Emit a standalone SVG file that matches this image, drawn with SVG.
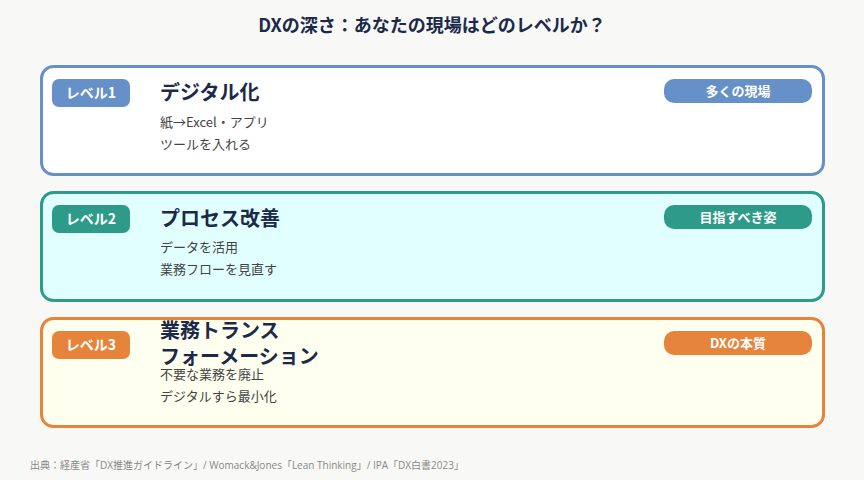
<svg xmlns="http://www.w3.org/2000/svg" width="864" height="480" viewBox="0 0 864 480">
<style>
text{font-family:"Noto Sans CJK JP","Noto Sans",sans-serif}
.ttl{font-size:18px;font-weight:bold;fill:#1c2a4a}
.card{stroke-width:3}
.lv{font-size:14px;font-weight:bold;fill:#fff}
.tag{font-size:13px;font-weight:bold;fill:#fff}
.h{font-size:20px;font-weight:bold;fill:#1c2a4a}
.s{font-size:13px;fill:#444}
.src{font-size:10px;fill:#888;font-family:"Open Sans","Noto Sans CJK JP",sans-serif}
</style>
<rect width="864" height="480" fill="#f8f8f6"/>
<text class="ttl" x="432" y="32" text-anchor="middle">DXの深さ：あなたの現場はどのレベルか？</text>
<g id="level1">
<rect class="card" x="41.5" y="66.5" width="782" height="108" rx="12" fill="#ffffff" stroke="#6690c8"/>
<rect x="52" y="79" width="78" height="28" rx="7" fill="#6690c8"/>
<text class="lv" x="91" y="98" text-anchor="middle">レベル1</text>
<text class="h" x="160" y="100">デジタル化</text>
<text class="s" x="160" y="127">紙→Excel・アプリ</text>
<text class="s" x="160" y="149">ツールを入れる</text>
<rect x="664" y="79" width="148" height="24" rx="10" fill="#6690c8"/>
<text class="tag" x="738" y="95.5" text-anchor="middle">多くの現場</text>
</g>
<g id="level2">
<rect class="card" x="41.5" y="192.5" width="782" height="108" rx="12" fill="#e0fffe" stroke="#2e9b8a"/>
<rect x="52" y="205" width="78" height="28" rx="7" fill="#2e9b8a"/>
<text class="lv" x="91" y="224" text-anchor="middle">レベル2</text>
<text class="h" x="160" y="226">プロセス改善</text>
<text class="s" x="160" y="252">データを活用</text>
<text class="s" x="160" y="274">業務フローを見直す</text>
<rect x="664" y="205" width="148" height="24" rx="10" fill="#2e9b8a"/>
<text class="tag" x="738" y="221.5" text-anchor="middle">目指すべき姿</text>
</g>
<g id="level3">
<rect class="card" x="41.5" y="318.5" width="782" height="108" rx="12" fill="#fffff0" stroke="#e5843a"/>
<rect x="52" y="331" width="78" height="28" rx="7" fill="#e5843a"/>
<text class="lv" x="91" y="350" text-anchor="middle">レベル3</text>
<text class="h" x="160" y="338">業務トランス</text>
<text class="h" x="160" y="364">フォーメーション</text>
<text class="s" x="160" y="379">不要な業務を廃止</text>
<text class="s" x="160" y="401">デジタルすら最小化</text>
<rect x="664" y="331" width="148" height="24" rx="10" fill="#e5843a"/>
<text class="tag" x="738" y="347.5" text-anchor="middle">DXの本質</text>
</g>
<g id="connectors"/>
<text class="src" x="30" y="469">出典：経産省「DX推進ガイドライン」/ Womack&amp;Jones「Lean Thinking」/ IPA「DX白書2023」</text>
</svg>
